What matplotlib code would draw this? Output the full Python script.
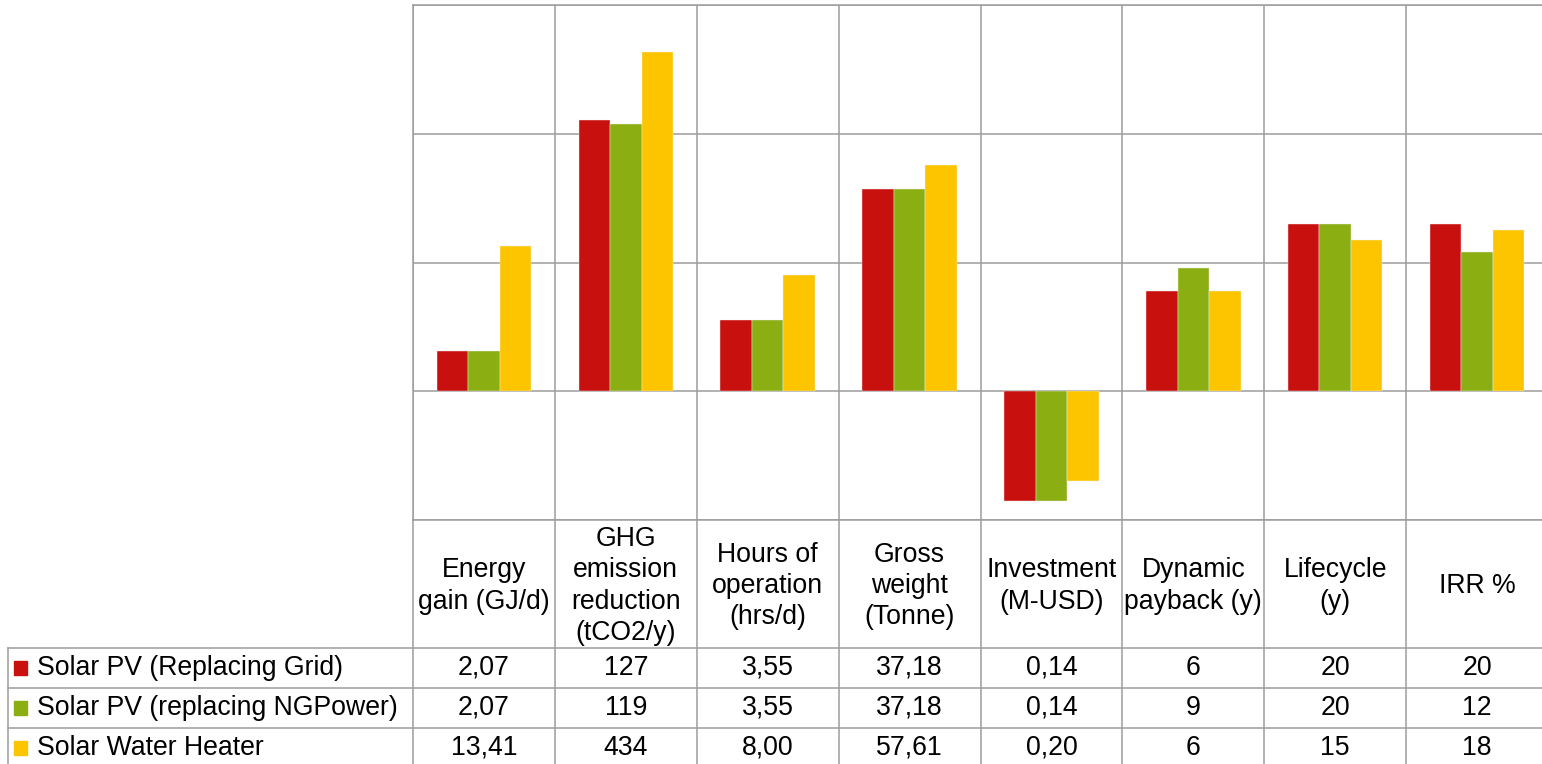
import matplotlib.pyplot as plt
import matplotlib.transforms as mtransforms
from matplotlib.lines import Line2D
from matplotlib.patches import Rectangle

plt.rcParams['font.family'] = ['Liberation Sans', 'DejaVu Sans']

categories = ['Energy\ngain (GJ/d)', 'GHG\nemission\nreduction\n(tCO2/y)', 'Hours of\noperation\n(hrs/d)',
              'Gross\nweight\n(Tonne)', 'Investment\n(M-USD)', 'Dynamic\npayback (y)', 'Lifecycle\n(y)', 'IRR %']
decimals = [2, 0, 2, 2, 2, 0, 0, 0]
series_names = ['Solar PV (Replacing Grid)', 'Solar PV (replacing NGPower)', 'Solar Water Heater']
pv_grid = [2.07, 127, 3.55, 37.18, 0.14, 6, 20, 20]
pv_ngpower = [2.07, 119, 3.55, 37.18, 0.14, 9, 20, 12]
water_heater = [13.41, 434, 8.00, 57.61, 0.20, 6, 15, 18]
colors = ['#C8100F', '#8BAE13', '#FDC500']

W, H = 1542, 764
fig = plt.figure(figsize=(W / 100, H / 100), dpi=100)

def fx(px):
    return px / W

def fy(py):
    return 1 - py / H

left, right, top, bottom = 413, 1548, 5, 520
ax = fig.add_axes([fx(left), fy(bottom), fx(right - left), (bottom - top) / H])

grid_c = '#9C9C9C'
n = len(categories)
bw = 1 / 4.5
all_series = [pv_grid, pv_ngpower, water_heater]
for i, vals in enumerate(all_series):
    xs = [k + (i - 1) * bw for k in range(n)]
    ax.bar(xs, [v - 1 for v in vals], bottom=1, width=bw, color=colors[i],
           edgecolor='#F0F0F0', linewidth=0.3, zorder=3)

ax.set_yscale('log')
ax.set_ylim(0.1, 1000)
ax.set_xlim(-0.5, n - 0.5)
ax.set_yticks([0.1, 1, 10, 100, 1000])
ax.yaxis.set_minor_locator(plt.NullLocator())
ax.set_xticks([k - 0.5 for k in range(n + 1)])
ax.tick_params(length=0, labelleft=False, labelbottom=False)
ax.grid(True, color=grid_c, linewidth=1.1, zorder=0)
ax.spines['right'].set_visible(False)
for s in ['top', 'left', 'bottom']:
    ax.spines[s].set_color(grid_c)
    ax.spines[s].set_linewidth(1.1)

# data table below the plot
fs = 19.2
trans = mtransforms.blended_transform_factory(ax.transData, fig.transFigure)
row_tops = [648, 688, 728, 768]

for k in range(n + 1):
    fig.add_artist(Line2D([k - 0.5, k - 0.5], [fy(bottom), 0], transform=trans,
                          color=grid_c, linewidth=1.1))
for r in row_tops[:3]:
    fig.add_artist(Line2D([fx(8), 1], [fy(r), fy(r)], color=grid_c, linewidth=1.1))
fig.add_artist(Line2D([fx(8), fx(8)], [fy(648), 0], color=grid_c, linewidth=1.1))

for k, cat in enumerate(categories):
    fig.text(k, fy(586), cat, transform=trans, ha='center', va='center',
             fontsize=fs, linespacing=1.27)

for i, vals in enumerate(all_series):
    yc = fy((row_tops[i] + row_tops[i + 1]) / 2)
    fig.add_artist(Rectangle((fx(14), yc - 7 / H), 13 / W, 14 / H, color=colors[i]))
    fig.text(fx(37), yc, series_names[i], ha='left', va='center', fontsize=fs)
    for k, v in enumerate(vals):
        label = f'{v:.{decimals[k]}f}'.replace('.', ',')
        fig.text(k, yc, label, transform=trans, ha='center', va='center', fontsize=fs)

fig.savefig('out.png', dpi=100)
